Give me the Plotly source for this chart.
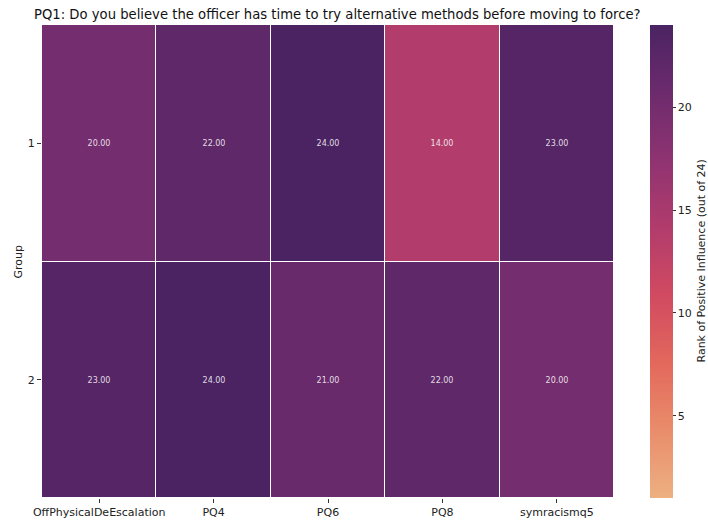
import plotly.graph_objects as go

# Rank of positive influence per group and predictor
predictors = ["OffPhysicalDeEscalation", "PQ4", "PQ6", "PQ8", "symracismq5"]
groups = ["1", "2"]
group1_ranks = [20, 22, 24, 14, 23]
group2_ranks = [23, 24, 21, 22, 20]

z = [group1_ranks, group2_ranks]

# seaborn "flare"-like sequential colorscale (light orange -> deep purple)
flare = [
    [0.0, "#EDB081"],
    [1 / 7, "#E98D6B"],
    [2 / 7, "#E3685C"],
    [3 / 7, "#D14A61"],
    [4 / 7, "#B13C6C"],
    [5 / 7, "#8F3371"],
    [6 / 7, "#6C2B6D"],
    [1.0, "#4B2362"],
]

font_family = "DejaVu Sans"

fig = go.Figure(
    go.Heatmap(
        z=z,
        x=predictors,
        y=groups,
        zmin=1,
        zmax=24,
        colorscale=flare,
        xgap=1,
        ygap=1,
        texttemplate="%{z:.2f}",
        textfont=dict(family=font_family, size=8, color="rgba(255,255,255,0.85)"),
        hovertemplate="Group %{y}<br>%{x}: %{z}<extra></extra>",
        colorbar=dict(
            x=(650 - 42) / 572,
            xanchor="left",
            y=0.5,
            yanchor="middle",
            len=1.0,
            lenmode="fraction",
            thickness=23,
            thicknessmode="pixels",
            outlinewidth=0,
            tickvals=[5, 10, 15, 20],
            ticks="outside",
            ticklen=3,
            tickcolor="#333",
            tickfont=dict(family=font_family, size=11, color="#222"),
            ypad=0,
            xpad=0,
        ),
    )
)

fig.add_annotation(
    text="Rank of Positive Influence (out of 24)",
    xref="paper",
    yref="paper",
    x=(701 - 42) / 572,
    y=0.5,
    xanchor="center",
    yanchor="middle",
    textangle=-90,
    showarrow=False,
    font=dict(family=font_family, size=11, color="#222"),
)

fig.add_annotation(
    text="Group",
    xref="paper",
    yref="paper",
    x=(18 - 42) / 572,
    y=0.5,
    xanchor="center",
    yanchor="middle",
    textangle=-90,
    showarrow=False,
    font=dict(family=font_family, size=11, color="#222"),
)

fig.update_layout(
    width=708,
    height=520,
    margin=dict(l=42, r=94, t=25, b=22),
    paper_bgcolor="white",
    plot_bgcolor="white",
    font=dict(family=font_family, size=11, color="#222"),
    title=dict(
        text="PQ1: Do you believe the officer has time to try alternative methods before moving to force?",
        x=34 / 708,
        xanchor="left",
        xref="container",
        y=1 - 14 / 520,
        yanchor="middle",
        yref="container",
        font=dict(family=font_family, size=13.2, color="#111"),
    ),
    xaxis=dict(
        showgrid=False,
        zeroline=False,
        automargin=False,
        ticks="outside",
        ticklen=4,
        tickcolor="#333",
        tickfont=dict(family=font_family, size=11, color="#222"),
    ),
    yaxis=dict(
        showgrid=False,
        zeroline=False,
        automargin=False,
        autorange="reversed",
        ticks="outside",
        ticklen=4,
        tickcolor="#333",
        tickfont=dict(family=font_family, size=11, color="#222"),
    ),
)

fig.write_html("out.html")
